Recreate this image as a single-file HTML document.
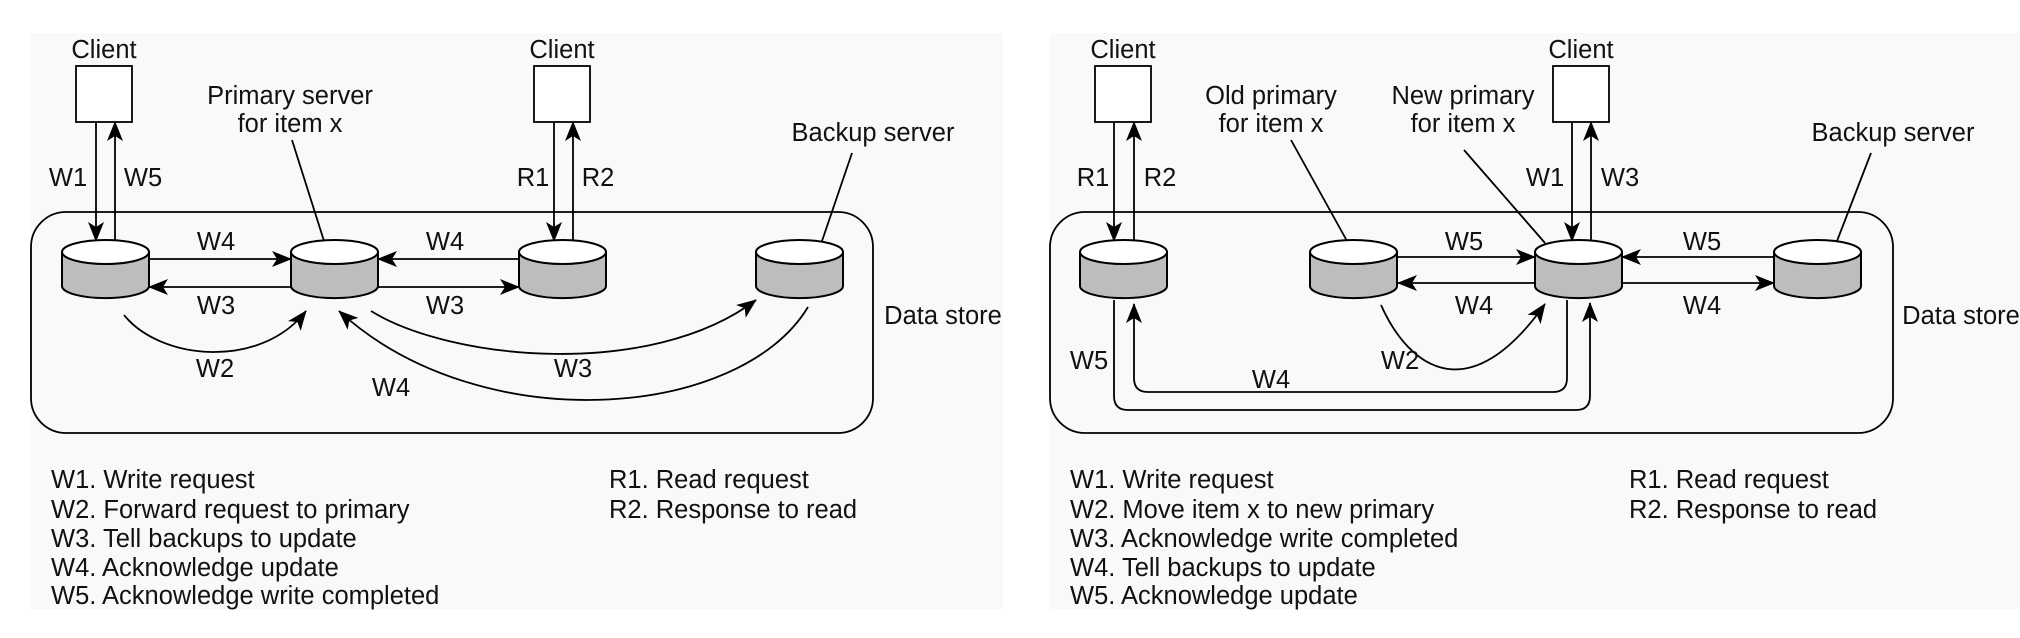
<!DOCTYPE html>
<html><head><meta charset="utf-8"><style>
html,body{margin:0;padding:0;background:#fff}
svg{display:block}
text{font-family:"Liberation Sans",sans-serif;font-size:25.5px;fill:#111}
</style></head><body>
<svg width="2020" height="638" viewBox="0 0 2020 638" xmlns="http://www.w3.org/2000/svg">
<defs>
<marker id="a" markerUnits="userSpaceOnUse" markerWidth="20" markerHeight="16" refX="19" refY="8" orient="auto"><path d="M0,0 L20,8 L0,16 L5,8 Z" fill="#000"/></marker>
<g id="cyl"><path d="M0,12 L0,46 A43,12 0 0 0 87,46 L87,12 Z" fill="#bdbdbd" stroke="#000" stroke-width="2"/><ellipse cx="43.5" cy="12" rx="43.5" ry="12" fill="#fff" stroke="#000" stroke-width="2"/></g>
</defs>
<rect x="31" y="33" width="972" height="576" fill="#f9f9f9"/>
<rect x="1050" y="33" width="970" height="576" fill="#f9f9f9"/>
<g fill="none" stroke="#000" stroke-width="1.8">
<rect x="31" y="212" width="842" height="221" rx="35" fill="none"/>
<rect x="76" y="66" width="56" height="56" fill="#fff"/>
<rect x="534" y="66" width="56" height="56" fill="#fff"/>
<path d="M96,122 L96,241" marker-end="url(#a)"/>
<path d="M115,241 L115,122" marker-end="url(#a)"/>
<path d="M554,122 L554,241" marker-end="url(#a)"/>
<path d="M573,241 L573,122" marker-end="url(#a)"/>
<path d="M149,259 L291,259" marker-end="url(#a)"/>
<path d="M519,259 L378,259" marker-end="url(#a)"/>
<path d="M291,287 L149,287" marker-end="url(#a)"/>
<path d="M378,287 L519,287" marker-end="url(#a)"/>
<path d="M124,315 C160,360 260,370 306,311" marker-end="url(#a)"/>
<path d="M371,311 C450,360 650,380 756,300" marker-end="url(#a)"/>
<path d="M808,307 C740,420 480,440 339,311" marker-end="url(#a)"/>
<path d="M292,140 L324,241"/>
<path d="M852,153 L822,241"/>
<rect x="1050" y="212" width="843" height="221" rx="35" fill="none"/>
<rect x="1095" y="66" width="56" height="56" fill="#fff"/>
<rect x="1553" y="66" width="56" height="56" fill="#fff"/>
<path d="M1114,122 L1114,241" marker-end="url(#a)"/>
<path d="M1134,241 L1134,122" marker-end="url(#a)"/>
<path d="M1572,122 L1572,241" marker-end="url(#a)"/>
<path d="M1591,241 L1591,122" marker-end="url(#a)"/>
<path d="M1398,257 L1535,257" marker-end="url(#a)"/>
<path d="M1535,283 L1398,283" marker-end="url(#a)"/>
<path d="M1774,257 L1622,257" marker-end="url(#a)"/>
<path d="M1622,283 L1774,283" marker-end="url(#a)"/>
<path d="M1381,305 C1410,370 1470,410 1545,304" marker-end="url(#a)"/>
<path d="M1567,300 L1567,378 Q1567,392 1553,392 L1148,392 Q1134,392 1134,378 L1134,304" marker-end="url(#a)"/>
<path d="M1114,300 L1114,396 Q1114,410 1128,410 L1576,410 Q1590,410 1590,396 L1590,303" marker-end="url(#a)"/>
<path d="M1291,140 L1347,241"/>
<path d="M1464,150 L1545,243"/>
<path d="M1871,153 L1837,241"/>
</g>
<use href="#cyl" x="62" y="240"/>
<use href="#cyl" x="291" y="240"/>
<use href="#cyl" x="519" y="240"/>
<use href="#cyl" x="756" y="240"/>
<use href="#cyl" x="1080" y="240"/>
<use href="#cyl" x="1310" y="240"/>
<use href="#cyl" x="1535" y="240"/>
<use href="#cyl" x="1774" y="240"/>
<g text-anchor="middle">
<text x="104" y="58">Client</text>
<text x="562" y="58">Client</text>
<text x="290" y="104">Primary server</text>
<text x="290" y="132">for item x</text>
<text x="873" y="141">Backup server</text>
<text x="68" y="186">W1</text><text x="143" y="186">W5</text>
<text x="533" y="186">R1</text><text x="598" y="186">R2</text>
<text x="216" y="250">W4</text><text x="445" y="250">W4</text>
<text x="216" y="314">W3</text><text x="445" y="314">W3</text>
<text x="215" y="377">W2</text><text x="573" y="377">W3</text>
<text x="391" y="396">W4</text>
<text x="943" y="324">Data store</text>
<text x="1123" y="58">Client</text>
<text x="1581" y="58">Client</text>
<text x="1271" y="104">Old primary</text>
<text x="1271" y="132">for item x</text>
<text x="1463" y="104">New primary</text>
<text x="1463" y="132">for item x</text>
<text x="1893" y="141">Backup server</text>
<text x="1093" y="186">R1</text><text x="1160" y="186">R2</text>
<text x="1545" y="186">W1</text><text x="1620" y="186">W3</text>
<text x="1464" y="250">W5</text><text x="1474" y="314">W4</text>
<text x="1702" y="250">W5</text><text x="1702" y="314">W4</text>
<text x="1400" y="369">W2</text>
<text x="1271" y="388">W4</text>
<text x="1089" y="369">W5</text>
<text x="1961" y="324">Data store</text>
</g>
<g>
<text x="51" y="488">W1. Write request</text>
<text x="51" y="518">W2. Forward request to primary</text>
<text x="51" y="547">W3. Tell backups to update</text>
<text x="51" y="576">W4. Acknowledge update</text>
<text x="51" y="604">W5. Acknowledge write completed</text>
<text x="609" y="488">R1. Read request</text>
<text x="609" y="518">R2. Response to read</text>
<text x="1070" y="488">W1. Write request</text>
<text x="1070" y="518">W2. Move item x to new primary</text>
<text x="1070" y="547">W3. Acknowledge write completed</text>
<text x="1070" y="576">W4. Tell backups to update</text>
<text x="1070" y="604">W5. Acknowledge update</text>
<text x="1629" y="488">R1. Read request</text>
<text x="1629" y="518">R2. Response to read</text>
</g>
</svg>
</body></html>
